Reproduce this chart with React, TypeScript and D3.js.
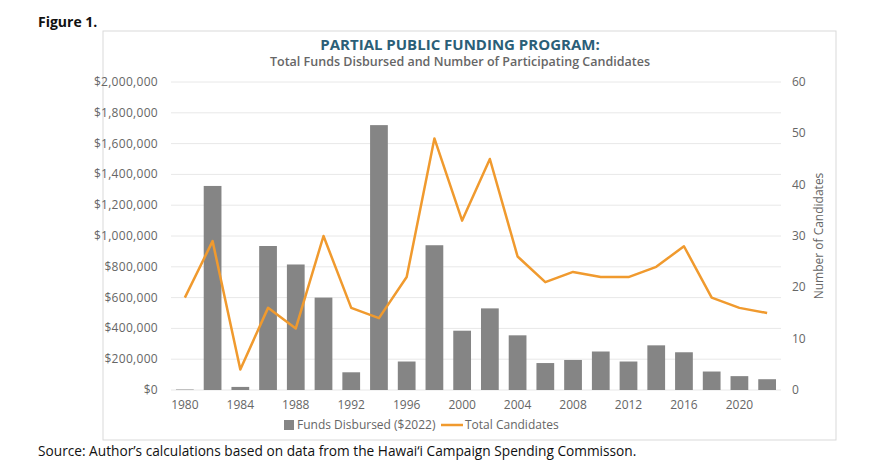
import React from 'react';
import * as d3 from 'd3';

const years = [1980, 1982, 1984, 1986, 1988, 1990, 1992, 1994, 1996, 1998, 2000, 2002, 2004, 2006, 2008, 2010, 2012, 2014, 2016, 2018, 2020, 2022];
const funds = [3000, 1325000, 20000, 935000, 815000, 600000, 115000, 1720000, 185000, 940000, 385000, 530000, 355000, 175000, 195000, 250000, 185000, 290000, 245000, 120000, 90000, 70000];
const candidates = [18, 29, 4, 16, 12, 30, 16, 14, 22, 49, 33, 45, 26, 21, 23, 22, 22, 24, 28, 18, 16, 15];
const leftTicks = [0, 200000, 400000, 600000, 800000, 1000000, 1200000, 1400000, 1600000, 1800000, 2000000];
const rightTicks = [0, 10, 20, 30, 40, 50, 60];

const W = 876, H = 472;
const left = 171, right = 781, top = 82, bottom = 390;
const font = '"Open Sans", sans-serif';

export default function App() {
  const x = d3.scaleBand<number>().domain(years).range([left, right]).paddingInner(0.36).paddingOuter(0.18);
  const yL = d3.scaleLinear().domain([0, 2000000]).range([bottom, top]);
  const yR = d3.scaleLinear().domain([0, 60]).range([bottom, top]);
  const fmt = (v: number) => '$' + d3.format(',')(v);
  const line = d3.line<number>()
    .x((_, i) => (x(years[i]) as number) + x.bandwidth() / 2)
    .y((d) => yR(d));

  return (
    <svg width={W} height={H} style={{ position: 'absolute', left: 0, top: 0, background: '#fff' }}>
      <text x={38} y={27} fontFamily={font} fontWeight={700} fontSize={14} fill="#111">Figure 1.</text>
      <rect x={103} y={31} width={733} height={409} fill="none" stroke="#d9d9d9" />
      <text x={460} y={50} textAnchor="middle" fontFamily={font} fontWeight={700} fontSize={15} fill="#2b5f78">PARTIAL PUBLIC FUNDING PROGRAM:</text>
      <text x={460} y={66} textAnchor="middle" fontFamily={font} fontWeight={600} fontSize={12.5} fill="#666">Total Funds Disbursed and Number of Participating Candidates</text>
      {leftTicks.map((t) => (
        <g key={t}>
          <line x1={left} x2={right} y1={yL(t)} y2={yL(t)} stroke="#e8e8e8" />
          <text x={158} y={yL(t) + 4} textAnchor="end" fontFamily={font} fontSize={12} letterSpacing={0.3} fill="#666">{fmt(t)}</text>
        </g>
      ))}
      {rightTicks.map((t) => (
        <text key={t} x={792} y={yR(t) + 4} fontFamily={font} fontSize={12} fill="#666">{t}</text>
      ))}
      <text transform={`translate(823,${(top + bottom) / 2}) rotate(-90)`} textAnchor="middle" fontFamily={font} fontSize={12} fill="#666">Number of Candidates</text>
      {years.map((yr, i) => (
        <rect key={yr} x={x(yr)} y={yL(funds[i])} width={x.bandwidth()} height={bottom - yL(funds[i])} fill="#858585" />
      ))}
      <path d={line(candidates) || ''} fill="none" stroke="#f09a2e" strokeWidth={2.5} strokeLinejoin="round" />
      {years.filter((_, i) => i % 2 === 0).map((yr) => (
        <text key={yr} x={(x(yr) as number) + x.bandwidth() / 2} y={409} textAnchor="middle" fontFamily={font} fontSize={12} fill="#666">{yr}</text>
      ))}
      <rect x={284} y={420} width={10} height={10} fill="#858585" />
      <text x={297} y={429} fontFamily={font} fontSize={12} fill="#666">Funds Disbursed ($2022)</text>
      <line x1={441} x2={463} y1={425} y2={425} stroke="#f09a2e" strokeWidth={2.5} />
      <text x={465} y={429} fontFamily={font} fontSize={12} fill="#666">Total Candidates</text>
      <text x={38} y={456} fontFamily={font} fontSize={13.7} fill="#111">Source: Author’s calculations based on data from the Hawai‘i Campaign Spending Commisson.</text>
    </svg>
  );
}
